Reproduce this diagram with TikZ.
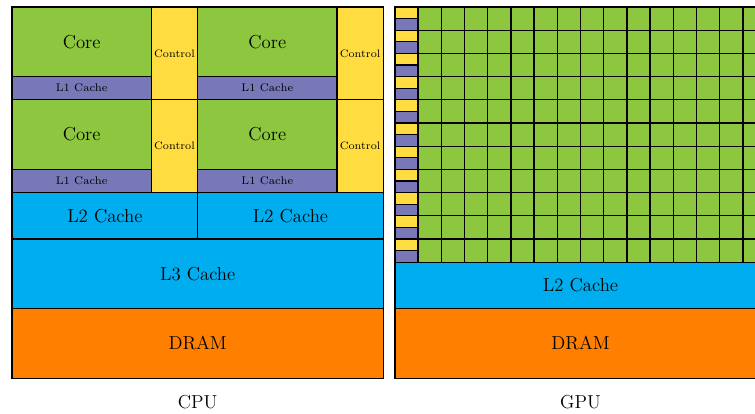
\documentclass[tikz,border=0pt]{standalone}
\usetikzlibrary{positioning}
\definecolor{coregreen}{RGB}{141,198,63}
\definecolor{cachepurple}{RGB}{120,120,184}
\definecolor{ctrlyellow}{RGB}{255,221,64}
\definecolor{cacheblue}{RGB}{0,174,239}
\definecolor{dramorange}{RGB}{255,128,0}
\tikzstyle{block} = [rectangle,draw=black,line width=0.8pt,inner sep=0pt,
outer sep=0pt, font=\fontsize{11.5}{13}\selectfont]
\tikzstyle{core} = [block,fill=coregreen,minimum width=3cm,minimum height=1.5cm]
\tikzstyle{lone} = [block,fill=cachepurple,minimum width=3cm,minimum height=0.5cm,
font=\fontsize{6.8}{8}\selectfont]
\tikzstyle{control} = [block,fill=ctrlyellow,minimum width=1cm,minimum height=2cm,
font=\fontsize{6.6}{8}\selectfont]
\tikzstyle{ltwo} = [block,fill=cacheblue,minimum width=4cm,minimum height=1cm]
\tikzstyle{lthree} = [block,fill=cacheblue,minimum width=8cm,minimum height=1.5cm]
\tikzstyle{dram} = [block,fill=dramorange,minimum width=8cm,minimum height=1.5cm]
\tikzstyle{alu} = [block,fill=coregreen,minimum width=0.5cm,minimum height=0.5cm]
\tikzstyle{ctrlcell} = [block,fill=ctrlyellow,minimum width=0.5cm,minimum height=0.25cm]
\tikzstyle{cachecell} = [block,fill=cachepurple,minimum width=0.5cm,minimum height=0.25cm]
\tikzstyle{caption} = [font=\fontsize{11.5}{13}\selectfont]

\begin{document}
\begin{tikzpicture}
  \useasboundingbox (-0.26,0.15) rectangle (16.01,-8.77);

  % CPU
  \node[core, anchor=north west] (core1) at (0,0) {Core};
  \node[lone, below=0pt of core1] (lone1) {L1 Cache};
  \node[control, anchor=north west] (ctrl1) at (core1.north east) {Control};
  \node[core, anchor=north west] (core2) at (ctrl1.north east) {Core};
  \node[lone, below=0pt of core2] (lone2) {L1 Cache};
  \node[control, anchor=north west] (ctrl2) at (core2.north east) {Control};

  \node[core, below=0pt of lone1] (core3) {Core};
  \node[lone, below=0pt of core3] (lone3) {L1 Cache};
  \node[control, anchor=north west] (ctrl3) at (core3.north east) {Control};
  \node[core, anchor=north west] (core4) at (ctrl3.north east) {Core};
  \node[lone, below=0pt of core4] (lone4) {L1 Cache};
  \node[control, anchor=north west] (ctrl4) at (core4.north east) {Control};

  \node[ltwo, anchor=north west] (ltwoa) at (lone3.south west) {L2 Cache};
  \node[ltwo, anchor=north west] (ltwob) at (ltwoa.north east) {L2 Cache};
  \node[lthree, anchor=north west] (lthree) at (ltwoa.south west) {L3 Cache};
  \node[dram, below=0pt of lthree] (cpudram) {DRAM};
  \node[caption, below=0.24cm of cpudram] (cpu) {CPU};

  % GPU
  \foreach \r in {0,...,10} {
    \node[ctrlcell, anchor=north west] (gctrl-\r) at (8.25,{-\r*0.5}) {};
    \node[cachecell, below=0pt of gctrl-\r] (gcache-\r) {};
    \foreach \c in {0,...,14} {
      \node[alu, anchor=north west] (alu-\r-\c) at ({8.75+\c*0.5},{-\r*0.5}) {};
    }
  }
  \node[ltwo, minimum width=8cm, anchor=north west] (gpultwo) at (gcache-10.south west) {L2 Cache};
  \node[dram, below=0pt of gpultwo] (gpudram) {DRAM};
  \node[caption, below=0.24cm of gpudram] (gpu) {GPU};
\end{tikzpicture}
\end{document}
